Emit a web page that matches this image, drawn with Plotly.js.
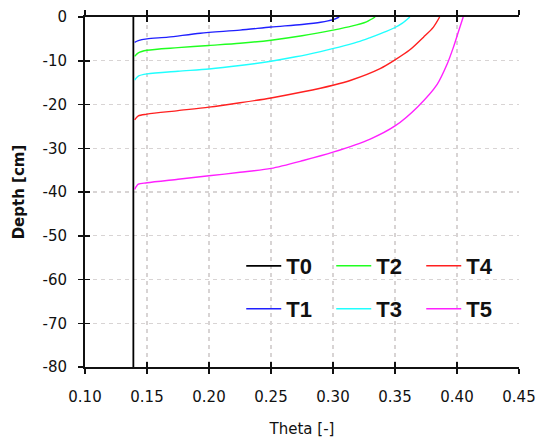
<!DOCTYPE html>
<html>
<head>
<meta charset="utf-8">
<script src="https://cdn.plot.ly/plotly-3.0.1.min.js"></script>
<style>html,body{margin:0;padding:0;background:#fff;}#chart{width:540px;height:444px;}</style>
</head>
<body>
<div id="chart"></div>
<script>
// ---- data ----
const seriesNames = ['T0', 'T1', 'T2', 'T3', 'T4', 'T5'];

const thetaT0 = [0.139, 0.139];
const depthT0 = [0, -80];

const thetaT1 = [0.140, 0.143, 0.15, 0.167, 0.193, 0.225, 0.25, 0.275, 0.29, 0.30, 0.305];
const depthT1 = [-5.8, -5.4, -5.0, -4.6, -3.7, -3.0, -2.3, -1.7, -1.2, -0.6, 0];

const thetaT2 = [0.140, 0.143, 0.15, 0.175, 0.20, 0.225, 0.25, 0.275, 0.30, 0.315, 0.327, 0.334];
const depthT2 = [-9.0, -8.2, -7.6, -7.0, -6.5, -6.0, -5.3, -4.3, -3.0, -2.1, -1.1, 0];

const thetaT3 = [0.140, 0.143, 0.15, 0.175, 0.20, 0.225, 0.25, 0.27, 0.29, 0.305, 0.32, 0.33, 0.343, 0.35, 0.356, 0.362];
const depthT3 = [-14.4, -13.5, -13.0, -12.4, -11.9, -11.1, -10.1, -9.1, -7.9, -6.9, -5.7, -4.7, -3.3, -2.4, -1.4, 0];

const thetaT4 = [0.140, 0.143, 0.15, 0.175, 0.20, 0.225, 0.25, 0.276, 0.30, 0.315, 0.338, 0.35, 0.362, 0.373, 0.381, 0.386];
const depthT4 = [-23.5, -22.6, -22.2, -21.4, -20.6, -19.6, -18.5, -17.1, -15.6, -14.4, -11.8, -9.8, -7.5, -4.6, -2.3, 0];

const thetaT5 = [0.140, 0.143, 0.15, 0.175, 0.20, 0.225, 0.25, 0.276, 0.30, 0.33, 0.35, 0.368, 0.384, 0.392, 0.397, 0.401, 0.405];
const depthT5 = [-39.4, -38.2, -37.9, -37.1, -36.3, -35.5, -34.6, -32.8, -30.9, -27.9, -24.9, -20.6, -15.4, -10.8, -7.0, -3.5, 0];

const xTickVals = [0.10, 0.15, 0.20, 0.25, 0.30, 0.35, 0.40, 0.45];
const xTickText = ['0.10', '0.15', '0.20', '0.25', '0.30', '0.35', '0.40', '0.45'];
const yTickVals = [0, -10, -20, -30, -40, -50, -60, -70, -80];
const yTickText = ['0', '-10', '-20', '-30', '-40', '-50', '-60', '-70', '-80'];

// ---- styles ----
const colors = ['#000000', '#2020ff', '#20ff20', '#20ffff', '#ff2020', '#ff20ff'];
const legendOf = ['legend', 'legend2', 'legend', 'legend2', 'legend', 'legend2'];
const thetas = [thetaT0, thetaT1, thetaT2, thetaT3, thetaT4, thetaT5];
const depths = [depthT0, depthT1, depthT2, depthT3, depthT4, depthT5];

const traces = seriesNames.map((n, i) => ({
  type: 'scatter', mode: 'lines', name: n,
  x: thetas[i], y: depths[i],
  line: {color: colors[i], width: i === 0 ? 1.8 : 1.4, shape: i === 0 ? 'linear' : 'spline', smoothing: 0.8},
  legend: legendOf[i], hoverinfo: 'skip'
}));
// invisible helpers to activate overlay axes (crossing ticks)
traces.push({type: 'scatter', mode: 'lines', x: thetaT0, y: depthT0, xaxis: 'x2', yaxis: 'y',
  line: {width: 0}, opacity: 0, showlegend: false, hoverinfo: 'skip'});
traces.push({type: 'scatter', mode: 'lines', x: thetaT0, y: depthT0, xaxis: 'x', yaxis: 'y2',
  line: {width: 0}, opacity: 0, showlegend: false, hoverinfo: 'skip'});

const tickFont = {family: 'DejaVu Sans', size: 15, color: '#111'};
const gridCol = '#d8d4d4';

const layout = {
  width: 540, height: 444,
  margin: {l: 85, r: 21, t: 17, b: 77},
  paper_bgcolor: '#fff', plot_bgcolor: '#fff',
  showlegend: true,
  xaxis: {
    range: [0.10, 0.45], tickvals: xTickVals, ticktext: xTickText,
    ticks: 'outside', ticklen: 5, tickwidth: 1.5, tickcolor: '#111',
    showline: true, linecolor: '#111', linewidth: 2, mirror: 'ticks',
    showgrid: true, gridcolor: gridCol, gridwidth: 1.2, griddash: '4px,4px',
    zeroline: false, tickfont: tickFont, ticklabelstandoff: 10,
    title: {text: 'Theta [-]', font: {family: 'DejaVu Sans', size: 15, color: '#111'}, standoff: 18}
  },
  xaxis2: {
    overlaying: 'x', anchor: 'y', side: 'bottom', range: [0.10, 0.45], tickvals: xTickVals,
    ticks: 'inside', ticklen: 5, tickwidth: 1.5, tickcolor: '#111', mirror: 'ticks',
    showline: false, showgrid: false, showticklabels: false, zeroline: false
  },
  yaxis: {
    range: [-80, 0], tickvals: yTickVals, ticktext: yTickText,
    ticks: 'outside', ticklen: 5, tickwidth: 1.5, tickcolor: '#111',
    showline: true, linecolor: '#111', linewidth: 2, mirror: false,
    showgrid: true, gridcolor: gridCol, gridwidth: 1.2, griddash: '4px,4px',
    zeroline: false, tickfont: tickFont, ticklabelstandoff: 8,
    title: {text: 'Depth [cm]', font: {family: 'DejaVu Sans', size: 15, color: '#111', weight: 'bold'}, standoff: 14}
  },
  yaxis2: {
    overlaying: 'y', anchor: 'x', side: 'left', range: [-80, 0], tickvals: yTickVals,
    ticks: 'inside', ticklen: 5, tickwidth: 1.5, tickcolor: '#111',
    showline: false, showgrid: false, showticklabels: false, zeroline: false
  },
  legend: {
    orientation: 'h', x: 0.36, xanchor: 'left', y: 0.2886, yanchor: 'middle',
    bgcolor: 'rgba(0,0,0,0)', borderwidth: 0, entrywidth: 40, entrywidthmode: 'pixels',
    font: {family: 'Arial', size: 22, color: '#111', weight: 'bold'}, itemwidth: 35
  },
  legend2: {
    orientation: 'h', x: 0.36, xanchor: 'left', y: 0.1657, yanchor: 'middle',
    bgcolor: 'rgba(0,0,0,0)', borderwidth: 0, entrywidth: 40, entrywidthmode: 'pixels',
    font: {family: 'Arial', size: 22, color: '#111', weight: 'bold'}, itemwidth: 35
  }
};

Plotly.newPlot('chart', traces, layout, {displayModeBar: false, staticPlot: true});
</script>
</body>
</html>
